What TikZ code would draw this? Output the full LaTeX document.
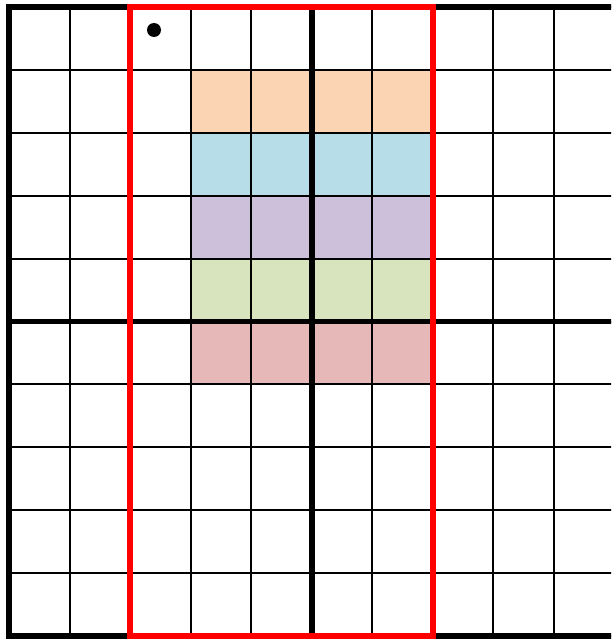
\documentclass[tikz,border=0pt]{standalone}
\begin{document}
\begin{tikzpicture}[x=1pt,y=-1pt,
  thin grid/.style={line width=2pt,black},
  thick grid/.style={line width=6pt,black},
  redbox/.style={line width=6pt,red!100,line cap=rect}]
\definecolor{peach}{HTML}{FBD4B4}
\definecolor{lblue}{HTML}{B7DDE8}
\definecolor{lav}{HTML}{CCC0DA}
\definecolor{lgreen}{HTML}{D7E4BD}
\definecolor{lpink}{HTML}{E6B9B8}
\useasboundingbox (0,0) rectangle (611,640);
\begin{scope}
\clip (0,0) rectangle (611,640);
\def\cw{60.5}
\def\rh{62.9}
% colored cells
\foreach \c [count=\j from 1] in {peach,lblue,lav,lgreen,lpink}{
  \fill[\c] (190.5,{7+\j*\rh}) rectangle (432.5,{7+(\j+1)*\rh});
}
% thin grid
\foreach \i in {0,...,10}{
  \draw[thin grid] ({9+\i*\cw},7) -- ({9+\i*\cw},636);
  \draw[thin grid] (9,{7+\i*\rh}) -- (614,{7+\i*\rh});
}
% thick lines
\draw[thick grid,line cap=rect] (614,7) -- (9,7) -- (9,636) -- (614,636);
\draw[thick grid] (311.5,7) -- (311.5,636);
\draw[line width=5pt,black] (9,321.5) -- (614,321.5);
% red rectangle
\draw[redbox] (130,7) rectangle (432.5,636);
% dot
\fill[black] (154,30) circle (7);
\end{scope}
\end{tikzpicture}
\end{document}
